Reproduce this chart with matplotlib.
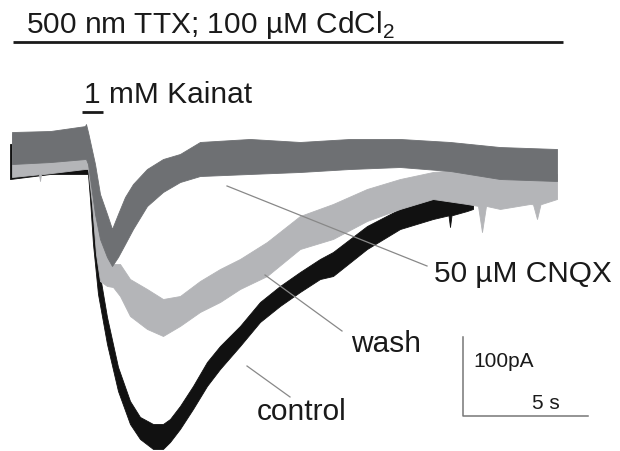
import matplotlib
matplotlib.use("Agg")
import matplotlib.pyplot as plt

plt.rcParams['font.family'] = ['Liberation Sans', 'DejaVu Sans']
plt.rcParams['mathtext.fontset'] = 'custom'
plt.rcParams['mathtext.rm'] = 'Liberation Sans'

# time (s, 0 = kainate onset) and current envelopes (pA, upper / lower edge of the noisy trace)
t_control = [-3.12, -1.5, 0.0, 0.08, 0.2, 0.4, 0.76, 1.2, 1.68, 2.08, 2.6, 3.0, 3.28, 3.68,
             4.2, 4.76, 5.28, 6.08, 6.88, 7.68, 8.48, 9.28, 9.8, 11.16, 12.48, 13.8, 14.42,
             14.48, 14.54, 15.16, 15.4]
hi_control = [6.3, 12.7, 12.7, -19, -82.3, -145.6, -212.7, -275.9, -319, -339.2, -348.1, -348.1,
              -341.8, -325.3, -300, -269.6, -249.4, -224, -193.7, -173.4, -155.7, -139.2,
              -130.4, -97.5, -75.9, -63.3, -60, -60, -60, -57, -54.4]
lo_control = [-38, -31.6, -31.6, -63.3, -120.3, -183.5, -246.8, -306.3, -348.1, -367.1, -379.7,
              -379.7, -370.9, -354.4, -329.1, -300, -278.5, -249.4, -219, -198.7, -181, -164.6,
              -160.8, -126.6, -101.3, -88.6, -84, -98.7, -84, -78.5, -75.9]

t_wash = [-3.04, -1.96, -1.92, -1.88, -0.12, 0.0, 0.16, 0.32, 0.48, 0.76, 1.0, 1.28, 1.68, 2.36,
          3.0, 3.68, 4.48, 5.28, 6.08, 7.16, 8.48, 9.8, 11.16, 12.48, 13.8, 15.16, 15.6, 15.76,
          15.92, 16.48, 17.68, 17.8, 17.96, 18.1, 18.76]
hi_wash = [19, 17, 17, 17, 21.5, 19, -19, -63.3, -107.6, -132.9, -145.6, -145.6, -164.6, -177.2,
           -189.9, -186.1, -167.1, -151.9, -139.2, -117.7, -84.8, -69.6, -50.6, -38, -29.1,
           -25.3, -26, -26, -26, -27.8, -29.1, -29.5, -29.5, -30, -31.6]
lo_wash = [-35.4, -32, -40.5, -32, -25.3, -25.3, -69.6, -132.9, -167.1, -173.4, -174.7, -186.1,
           -211.4, -227.8, -236.7, -224, -206.3, -193.7, -177.2, -160.8, -126.6, -113.9, -91.1,
           -75.9, -63.3, -69.6, -72, -105.1, -72, -75.9, -69.6, -70, -88.6, -70, -63.3]

t_cnqx = [-3.04, -1.5, -0.12, -0.08, 0.0, 0.28, 0.48, 0.76, 0.96, 1.2, 1.48, 1.8, 2.36, 3.0,
          3.68, 4.48, 6.48, 8.48, 10.48, 12.48, 14.48, 16.48, 18.76]
hi_cnqx = [21.5, 22.8, 29, 31.6, 21.5, -19, -57, -82.3, -101.3, -82.3, -60.8, -44.3, -25.3,
           -12.7, -6.3, 8.9, 12.7, 8.9, 12.7, 12.7, 8.9, 2.5, 0]
lo_cnqx = [-19, -16.5, -12.7, -12.7, -19, -82.3, -113.9, -136.7, -148.1, -136.7, -120.3, -101.3,
           -72.2, -54.4, -41.8, -34.2, -31.6, -29.1, -25.3, -22.8, -27.8, -38, -40.5]

fig = plt.figure(figsize=(6.2, 4.52), dpi=100)
ax = fig.add_axes([0, 0, 1, 1])
ax.set_xlim(-3.52, 21.28)
ax.set_ylim(-382.3, 189.9)
ax.axis('off')

ax.fill_between(t_control, lo_control, hi_control, color='#111111', lw=0.6, edgecolor='#111111')
ax.fill_between(t_wash, lo_wash, hi_wash, color='#b4b5b8', lw=0.6, edgecolor='#b4b5b8')
ax.fill_between(t_cnqx, lo_cnqx, hi_cnqx, color='#6e7073', lw=0.6, edgecolor='#6e7073')

txt = '#1a1a1a'
ax.text(-2.48, 148.1, r'500 nm TTX; 100 µM CdCl$_\mathrm{2}$', fontsize=21.5, color=txt, va='baseline')
ax.plot([-3.0, 19.0], [135.4, 135.4], color='#1a1a1a', lw=2.0, solid_capstyle='butt')

ax.text(-0.16, 59.5, '1 mM Kainat', fontsize=21.5, color=txt, va='baseline')
ax.plot([-0.24, 0.6], [46.8, 46.8], color='#1a1a1a', lw=2.0, solid_capstyle='butt')

# callouts
ax.plot([5.56, 13.56], [-46.8, -148.1], color='#888888', lw=0.9)
ax.text(13.84, -167.1, '50 µM CNQX', fontsize=21.5, color=txt, va='baseline')
ax.plot([7.08, 10.16], [-159.5, -230.4], color='#888888', lw=0.9)
ax.text(10.52, -255.7, 'wash', fontsize=21.5, color=txt, va='baseline')
ax.plot([6.36, 8.08], [-274.7, -313.9], color='#888888', lw=0.9)
ax.text(6.76, -341.8, 'control', fontsize=21.5, color=txt, va='baseline')

# scale bar: 100 pA, 5 s
ax.plot([15, 15, 20], [-238, -338, -338], color='#777777', lw=1.1)
ax.text(15.4, -274.7, '100pA', fontsize=15, color=txt, va='baseline')
ax.text(17.76, -327.8, '5 s', fontsize=15, color=txt, va='baseline')

fig.savefig('out.png', dpi=100)
